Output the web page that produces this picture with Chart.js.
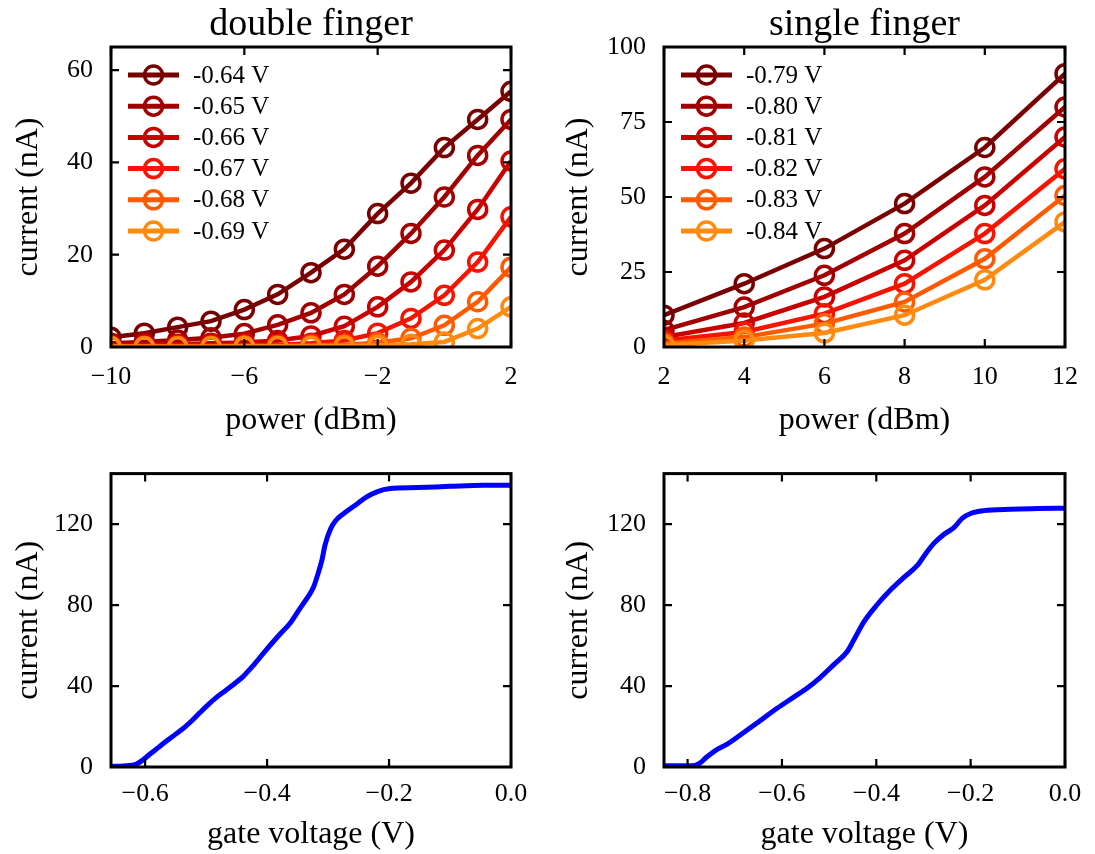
<!DOCTYPE html>
<html><head><meta charset="utf-8">
<script src="https://cdn.jsdelivr.net/npm/chart.js@4.4.1/dist/chart.umd.min.js"></script>
<style>
html,body{margin:0;padding:0;background:#fff;}
body{width:1095px;height:854px;position:relative;overflow:hidden;}
canvas{position:absolute;display:block;}
</style></head><body>
<canvas id="c1" width="547" height="440" style="left:0;top:0"></canvas>
<canvas id="c2" width="548" height="440" style="left:547px;top:0"></canvas>
<canvas id="c3" width="547" height="414" style="left:0;top:440px"></canvas>
<canvas id="c4" width="548" height="414" style="left:547px;top:440px"></canvas>
<script>
// ---------------- DATA ----------------
// double finger: power sweep
const powerDouble = [-10,-9,-8,-7,-6,-5,-4,-3,-2,-1,0,1,2];
const labelsDouble = ['-0.64 V','-0.65 V','-0.66 V','-0.67 V','-0.68 V','-0.69 V'];
const dbl064 = [2.1,3.0,4.3,5.6,8.1,11.4,16.1,21.2,28.9,35.5,43.2,49.3,55.4];
const dbl065 = [0.8,1.1,1.5,2.0,2.9,4.8,7.4,11.4,17.5,24.6,32.5,41.5,49.3];
const dbl066 = [0.4,0.5,0.6,0.8,1.0,1.4,2.4,4.5,8.7,14.1,21.0,29.8,40.3];
const dbl067 = [0.2,0.2,0.3,0.3,0.4,0.5,0.8,1.4,3.0,6.2,11.2,18.4,28.2];
const dbl068 = [0.1,0.1,0.1,0.1,0.2,0.2,0.3,0.5,0.9,1.9,4.7,9.8,17.3];
const dbl069 = [0.05,0.05,0.05,0.05,0.1,0.1,0.1,0.2,0.3,0.6,1.1,4.0,8.7];

// single finger: power sweep
const powerSingle = [2,4,6,8,10,12];
const labelsSingle = ['-0.79 V','-0.80 V','-0.81 V','-0.82 V','-0.83 V','-0.84 V'];
const sgl079 = [10.6,21.1,32.8,47.8,66.5,91.1];
const sgl080 = [5.6,13.3,23.9,37.8,56.7,80.0];
const sgl081 = [3.3,8.0,16.7,28.9,47.2,70.0];
const sgl082 = [2.2,5.0,11.1,21.1,37.8,59.4];
const sgl083 = [1.2,3.3,7.8,15.0,29.4,50.5];
const sgl084 = [0.6,2.2,4.7,10.6,22.4,41.7];

const seriesColors = ['#780000','#a00000','#c80000','#f51400','#ff5a00','#ff8a10'];

// gate sweeps
const gateDouble = [-0.656,-0.640,-0.625,-0.614,-0.604,-0.592,-0.578,-0.565,-0.551,-0.537,-0.523,-0.510,-0.497,-0.483,-0.469,-0.455,-0.439,-0.422,-0.400,-0.379,-0.362,-0.346,-0.335,-0.324,-0.316,-0.310,-0.305,-0.296,-0.288,-0.275,-0.253,-0.236,-0.220,-0.198,-0.154,-0.100,-0.045,0.000];
const currDouble = [0.3,0.4,0.7,1.5,3.4,6.4,9.7,12.8,16.0,19.2,23.0,26.9,30.7,34.4,37.6,40.8,44.8,50.4,58.4,65.6,71.2,78.4,83.2,88.8,96.0,102.4,109.6,117.6,121.6,125.1,129.9,133.6,136.0,137.6,138.1,138.7,139.2,139.2];

const gateSingle = [-0.850,-0.820,-0.785,-0.774,-0.760,-0.742,-0.717,-0.689,-0.653,-0.611,-0.575,-0.547,-0.519,-0.490,-0.462,-0.448,-0.427,-0.398,-0.370,-0.342,-0.313,-0.296,-0.278,-0.257,-0.235,-0.218,-0.200,-0.172,-0.115,-0.058,0.000];
const currSingle = [0.6,0.6,0.8,1.9,4.8,8.0,11.2,15.7,21.7,28.9,34.5,38.9,44.2,50.6,57.0,62.6,71.5,80.3,87.5,93.6,99.6,105.2,110.5,114.9,118.4,122.9,125.3,126.7,127.4,127.7,127.9];

// ticks
const xTicksTL = [-10,-6,-2,2];     const xTickLabelsTL = ['\u221210','\u22126','\u22122','2'];
const yTicksTL = [0,20,40,60];      const yTickLabelsTL = ['0','20','40','60'];
const xTicksTR = [2,4,6,8,10,12];   const xTickLabelsTR = ['2','4','6','8','10','12'];
const yTicksTR = [0,25,50,75,100];  const yTickLabelsTR = ['0','25','50','75','100'];
const xTicksBL = [-0.6,-0.4,-0.2,0];     const xTickLabelsBL = ['\u22120.6','\u22120.4','\u22120.2','0.0'];
const xTicksBR = [-0.8,-0.6,-0.4,-0.2,0]; const xTickLabelsBR = ['\u22120.8','\u22120.6','\u22120.4','\u22120.2','0.0'];
const yTicksB = [0,40,80,120];      const yTickLabelsB = ['0','40','80','120'];

// ---------------- RENDER ----------------
const FONT = "'Liberation Serif', 'DejaVu Serif', serif";
Chart.defaults.font.family = FONT;
Chart.defaults.color = '#000';
Chart.defaults.animation = false;

const frameTicks = {
  id: 'frameTicks',
  afterDatasetsDraw(chart) {
    const {ctx, chartArea: a, scales: {x, y}} = chart;
    ctx.save();
    ctx.strokeStyle = '#000';
    ctx.lineWidth = 2.2;
    ctx.beginPath();
    for (const t of x.ticks) {
      const p = x.getPixelForValue(t.value);
      ctx.moveTo(p, a.bottom); ctx.lineTo(p, a.bottom - 8);
      ctx.moveTo(p, a.top); ctx.lineTo(p, a.top + 8);
    }
    for (const t of y.ticks) {
      const p = y.getPixelForValue(t.value);
      ctx.moveTo(a.left, p); ctx.lineTo(a.left + 8, p);
      ctx.moveTo(a.right, p); ctx.lineTo(a.right - 8, p);
    }
    ctx.stroke();
    ctx.lineWidth = 3;
    ctx.strokeRect(a.left, a.top, a.right - a.left, a.bottom - a.top);
    ctx.restore();
  }
};

const insetLegend = {
  id: 'insetLegend',
  afterDraw(chart, args, opts) {
    if (!opts || !opts.display) return;
    const {ctx, chartArea: a} = chart;
    const items = chart.data.datasets.slice().reverse();
    ctx.save();
    ctx.font = opts.fontSize + 'px ' + FONT;
    ctx.textBaseline = 'middle';
    ctx.textAlign = 'left';
    items.forEach((ds, i) => {
      const yy = a.top + opts.top + i * opts.step;
      ctx.strokeStyle = ds.borderColor;
      ctx.lineWidth = 5;
      ctx.beginPath();
      ctx.moveTo(a.left + 17, yy); ctx.lineTo(a.left + 68, yy);
      ctx.stroke();
      ctx.lineWidth = 3.5;
      ctx.beginPath();
      ctx.arc(a.left + 42.5, yy, 9, 0, Math.PI * 2);
      ctx.stroke();
      ctx.fillStyle = '#000';
      ctx.fillText(ds.label, a.left + 82, yy + 1);
    });
    ctx.restore();
  }
};

function makeScales(cfg) {
  return {
    x: {
      type: 'linear', min: cfg.xmin, max: cfg.xmax,
      afterBuildTicks: s => { s.ticks = cfg.xt.map(v => ({value: v})); },
      afterFit: s => { s.height = cfg.xh; },
      grid: {display: false, drawTicks: false},
      border: {display: false},
      ticks: {autoSkip: false, maxRotation: 0, padding: cfg.xpad, font: {size: 26}, color: '#000',
              callback: (v, i) => cfg.xl[i]},
      title: {display: true, text: cfg.xtitle, font: {size: 32}, color: '#000', padding: {top: 0, bottom: cfg.xtpad}}
    },
    y: {
      type: 'linear', min: cfg.ymin, max: cfg.ymax,
      afterBuildTicks: s => { s.ticks = cfg.yt.map(v => ({value: v})); },
      afterFit: s => { s.width = cfg.yw; },
      grid: {display: false, drawTicks: false},
      border: {display: false},
      ticks: {autoSkip: false, padding: 18, font: {size: 26}, color: '#000',
              callback: (v, i) => cfg.yl[i]},
      title: {display: true, text: 'current (nA)', font: {size: 32}, color: '#000', padding: {top: cfg.ytpad, bottom: 0}}
    }
  };
}

function markerDatasets(xs, series, labels) {
  return series.map((vals, i) => ({
    label: labels[i],
    data: xs.map((x, k) => ({x, y: vals[k]})),
    borderColor: seriesColors[i],
    backgroundColor: 'rgba(0,0,0,0)',
    borderWidth: 4.5,
    pointRadius: 9,
    pointBorderWidth: 3.5,
    pointBackgroundColor: 'rgba(0,0,0,0)',
    pointBorderColor: seriesColors[i],
    tension: 0,
    clip: 0
  }));
}

function topChart(id, title, xs, series, labels, sc, padRight) {
  new Chart(document.getElementById(id), {
    type: 'line',
    // reversed so the darkest series is drawn on top
    data: {datasets: markerDatasets(xs, series, labels).reverse()},
    options: {
      responsive: false,
      animation: false,
      layout: {padding: {left: 0, right: padRight, top: 0, bottom: 0}},
      scales: makeScales(sc),
      plugins: {
        legend: {display: false},
        tooltip: {enabled: false},
        title: {display: true, text: title, fullSize: false, font: {size: 38, weight: 'normal', lineHeight: 1.0},
                color: '#000', padding: {top: 6, bottom: 3}},
        insetLegend: {display: true, top: 28, step: 31.2, fontSize: 25}
      }
    },
    plugins: [frameTicks, insetLegend]
  });
}

function bottomChart(id, xs, ys, sc, padRight) {
  new Chart(document.getElementById(id), {
    type: 'line',
    data: {datasets: [{
      label: 'current',
      data: xs.map((x, k) => ({x, y: ys[k]})),
      borderColor: 'rgb(0,0,255)',
      borderWidth: 5,
      pointRadius: 0,
      cubicInterpolationMode: 'monotone',
      clip: 0
    }]},
    options: {
      responsive: false,
      animation: false,
      layout: {padding: {left: 0, right: padRight, top: 26, bottom: 0}},
      scales: makeScales(sc),
      plugins: {legend: {display: false}, tooltip: {enabled: false}}
    },
    plugins: [frameTicks]
  });
}

topChart('c1', 'double finger', powerDouble, [dbl064, dbl065, dbl066, dbl067, dbl068, dbl069], labelsDouble,
  {xmin: -10, xmax: 2, xt: xTicksTL, xl: xTickLabelsTL, ymin: 0, ymax: 65, yt: yTicksTL, yl: yTickLabelsTL,
   xh: 93, yw: 111, xpad: 15, xtpad: 0, ytpad: 9, xtitle: 'power (dBm)'}, 36);

topChart('c2', 'single finger', powerSingle, [sgl079, sgl080, sgl081, sgl082, sgl083, sgl084], labelsSingle,
  {xmin: 2, xmax: 12, xt: xTicksTR, xl: xTickLabelsTR, ymin: 0, ymax: 100, yt: yTicksTR, yl: yTickLabelsTR,
   xh: 93, yw: 117, xpad: 15, xtpad: 0, ytpad: 12, xtitle: 'power (dBm)'}, 30);

bottomChart('c3', gateDouble, currDouble,
  {xmin: -0.656, xmax: 0, xt: xTicksBL, xl: xTickLabelsBL, ymin: 0, ymax: 145, yt: yTicksB, yl: yTickLabelsB,
   xh: 87, yw: 111, xpad: 12, xtpad: 0, ytpad: 9, xtitle: 'gate voltage (V)'}, 36);

bottomChart('c4', gateSingle, currSingle,
  {xmin: -0.85, xmax: 0, xt: xTicksBR, xl: xTickLabelsBR, ymin: 0, ymax: 145, yt: yTicksB, yl: yTickLabelsB,
   xh: 87, yw: 117, xpad: 12, xtpad: 0, ytpad: 12, xtitle: 'gate voltage (V)'}, 30);
</script>
</body></html>
